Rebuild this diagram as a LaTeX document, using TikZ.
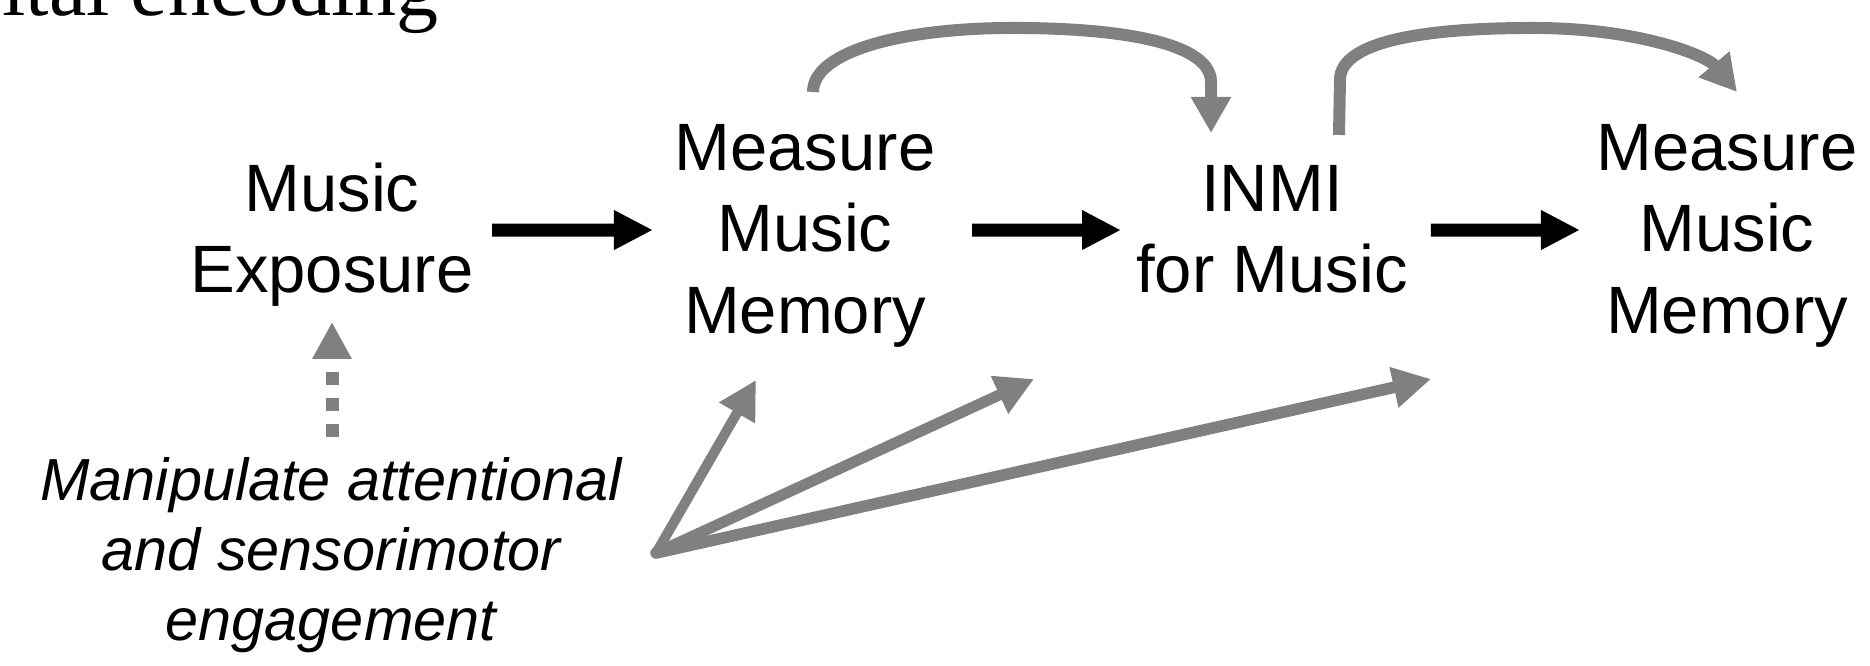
\documentclass[tikz,border=0pt]{standalone}
\usepackage{fontspec}
\newfontfamily\sansf{Liberation Sans}
\newfontfamily\seriff{Liberation Serif}
\usetikzlibrary{arrows.meta}
\begin{document}
\begin{tikzpicture}[x=0.5pt,y=-0.5pt,
  lbl/.style={inner sep=0pt, outer sep=0pt, align=center, anchor=north,
    font=\sansf\fontsize{33.5}{40.75}\selectfont},
  itl/.style={inner sep=0pt, outer sep=0pt, align=center, anchor=north,
    font=\sansf\itshape\fontsize{29.7}{35}\selectfont},
  blk/.style={draw=black, line width=6.5pt, -{Triangle[length=19.5pt,width=18.5pt]}},
  garc/.style={draw=gray, line width=6pt, -{Triangle[length=18pt,width=19pt]}},
  gfan/.style={draw=gray, line width=#1, line cap=round, -{Triangle[length=19pt,width=19.5pt]}},
  gdash/.style={draw=gray, line width=6.5pt, dash pattern=on 6.5pt off 6.5pt, -{Triangle[length=18.5pt,width=18.5pt]}}
]
\useasboundingbox (0,0) rectangle (1870,665);

\node[anchor=base west, inner sep=0pt, font=\seriff\fontsize{42}{50}\selectfont] (title) at (2,15) {ital encoding};

\node[lbl] (exp)  at (332,153.95) {\strut Music\\\strut Exposure};
\node[lbl] (mm1)  at (805,112.95) {\strut Measure\\\strut Music\\\strut Memory};
\node[lbl] (inmi) at (1272,153.95) {\strut INMI\\\strut for Music};
\node[lbl] (mm2)  at (1727,112.95) {\strut Measure\\\strut Music\\\strut Memory};
\node[itl] (manip) at (331,451) {\strut Manipulate attentional\\\strut and sensorimotor\\\strut engagement};

% black arrows
\draw[blk] ([xshift=9.25pt,yshift=2.7pt]exp.east) -- ([xshift=-10.85pt,yshift=2.6pt]mm1.west);
\draw[blk] ([xshift=18.35pt,yshift=2.6pt]mm1.east) -- ([xshift=-7.55pt,yshift=2.7pt]inmi.west);
\draw[blk] ([xshift=11.55pt,yshift=2.7pt]inmi.east) -- ([xshift=-8.35pt,yshift=2.6pt]mm2.west);

% curved arrows
\coordinate (c1s) at ([xshift=4pt,yshift=10.5pt]mm1.north);
\coordinate (c1e) at ([xshift=-30.5pt,yshift=10.5pt]inmi.north);
\draw[garc] (c1s) .. controls +(0,-40) and +(-113,0) .. ++(200,-64)
  .. controls +(117,0) and +(0,-37) .. ++(198,54) -- (c1e);

\coordinate (c2s) at ([xshift=33.5pt,yshift=9.5pt]inmi.north);
\coordinate (c2e) at ([xshift=5pt,yshift=10.5pt]mm2.north);
\draw[garc] (c2s) -- ++(1,-55) .. controls +(0,-40) and +(-103,0) .. ++(193,-52)
  .. controls +(107,0) and +(-30,-36) .. (c2e);

% dashed arrow
\draw[gdash] ([xshift=0.5pt,yshift=7pt]manip.north) -- ([yshift=-2.5pt]exp.south);

% fan arrows
\coordinate (fan) at ([xshift=17.25pt,yshift=1.5pt]manip.east);
\coordinate (tA) at (756,380);
\coordinate (tB) at (1034,379);
\coordinate (tC) at (1431,379);
\draw[gfan=5pt] (fan) -- (tA);
\draw[gfan=5.5pt] (fan) -- (tB);
\draw[gfan=5.8pt] (fan) -- (tC);
\end{tikzpicture}
\end{document}
